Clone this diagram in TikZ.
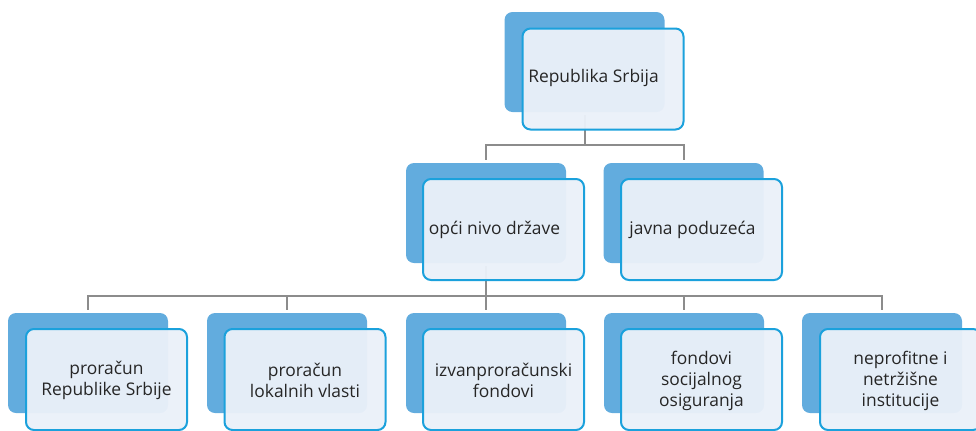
\documentclass[tikz,border=0pt]{standalone}
\usepackage{fontspec}
\setmainfont{Open Sans}
\definecolor{backblue}{HTML}{62ACDE}
\definecolor{frontline}{HTML}{1BA1DC}
\definecolor{frontfill}{HTML}{EAF0F9}
\definecolor{conngray}{HTML}{8C8C8C}
\definecolor{txt}{HTML}{262626}
\begin{document}
\begin{tikzpicture}[x=0.5pt,y=-0.5pt,
 backbox/.style={fill=backblue,draw=none,rounded corners=4pt,minimum width=80pt,minimum height=50pt,inner sep=0pt},
 frontbox/.style={fill=frontfill,fill opacity=0.96,draw=frontline,line width=1pt,rounded corners=4pt,minimum width=80.5pt,minimum height=50.5pt,inner sep=0pt},
 lbl/.style={text=txt,align=center,font=\fontsize{8.7pt}{10.5pt}\selectfont,inner sep=0pt},
 conn/.style={draw=conngray,line width=1pt}]
\clip (0,0) rectangle (976,430);
% back boxes
\node[backbox] (b0) at (584.5,62) {};
\node[backbox] (b1) at (486,213) {};
\node[backbox] (b2) at (683.5,213) {};
\node[backbox] (c1) at (88,363) {};
\node[backbox] (c2) at (287,363) {};
\node[backbox] (c3) at (486,363) {};
\node[backbox] (c4) at (684,363) {};
\node[backbox] (c5) at (882,363) {};
% connectors
\coordinate (j0) at (b0.south |- 0,145);
\coordinate (j1) at (b1.south |- 0,296);
\draw[conn,shorten <=1.5pt] (b0.south) -- (j0);
\draw[conn,shorten >=1.5pt] (j0) -| (b1.north);
\draw[conn,shorten >=1.5pt] (j0) -| (b2.north);
\draw[conn,shorten <=1.5pt] (b1.south) -- (j1);
\foreach \c in {c1,c2,c3,c4,c5}{
  \draw[conn,shorten >=1.5pt] (j1) -| (\c.north);
}
% front boxes
\node[frontbox] (f0) at (603,79) {};
\node[frontbox] (f1) at (503.5,229.5) {};
\node[frontbox] (f2) at (701.5,229.5) {};
\node[frontbox] (g1) at (106.5,379.5) {};
\node[frontbox] (g2) at (305,379.5) {};
\node[frontbox] (g3) at (503.5,379.5) {};
\node[frontbox] (g4) at (701.5,379.5) {};
\node[frontbox] (g5) at (900.5,379.5) {};
% labels
\node[lbl] (t0) at (593.5,78) {Republika Srbija};
\node[lbl] (t1) at (494.5,230) {opći nivo države};
\node[lbl] (t2) at (692.5,230) {javna poduzeća};
\node[lbl] (s1) at (106.5,380.5) {proračun\\Republike Srbije};
\node[lbl] (s2) at (305,380.5) {proračun\\lokalnih vlasti};
\node[lbl] (s3) at (503.5,380.5) {izvanproračunski\\fondovi};
\node[lbl] (s4) at (701.5,380.5) {fondovi\\socijalnog\\osiguranja};
\node[lbl] (s5) at (900.5,380.5) {neprofitne i\\netržišne\\institucije};
\end{tikzpicture}
\end{document}
